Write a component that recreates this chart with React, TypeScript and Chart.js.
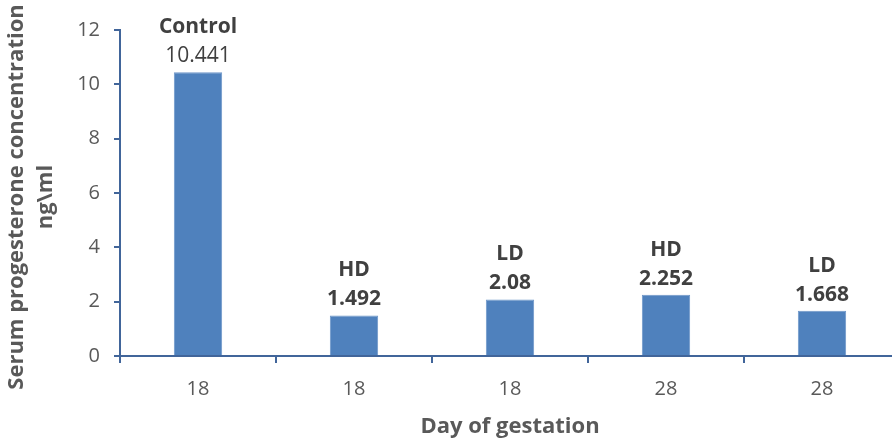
import React, { useEffect, useRef } from "react";
import { Chart, registerables } from "chart.js";

Chart.register(...registerables);

const categories = ["18", "18", "18", "28", "28"];
const groups = ["Control", "HD", "LD", "HD", "LD"];
const values = [10.441, 1.492, 2.08, 2.252, 1.668];
const valueLabels = ["10.441", "1.492", "2.08", "2.252", "1.668"];
const yMin = 0;
const yMax = 12;
const yStep = 2;
const yTitleLines = ["Serum progesterone concentration", "ng\\ml"];
const xTitle = "Day of gestation";

const FONT = "'Open Sans', 'Liberation Sans', sans-serif";
const AXIS_COLOR = "#41659A";
const TEXT_COLOR = "#595959";
const LABEL_COLOR = "#404040";
const BAR_COLOR = "#4F81BD";
const valueBold = [false, true, true, true, true];

const labelPlugin = {
  id: "labels",
  afterDatasetsDraw(chart: any) {
    const ctx = chart.ctx;
    const meta = chart.getDatasetMeta(0);
    ctx.save();
    ctx.fillStyle = LABEL_COLOR;
    ctx.textAlign = "center";
    ctx.textBaseline = "middle";
    meta.data.forEach((bar: any, i: number) => {
      const x = bar.x;
      const y = bar.y;
      ctx.font = `${valueBold[i] ? "bold " : ""}21px ${FONT}`;
      ctx.fillText(valueLabels[i], x, y - 16);
      ctx.font = `bold 21px ${FONT}`;
      ctx.fillText(groups[i], x, y - 45);
    });
    ctx.restore();
  },
  afterDraw(chart: any) {
    const ctx = chart.ctx;
    const area = chart.chartArea;
    ctx.save();
    ctx.fillStyle = TEXT_COLOR;
    ctx.font = `bold 22px ${FONT}`;
    ctx.textAlign = "center";
    ctx.textBaseline = "middle";
    ctx.fillText(xTitle, (area.left + area.right) / 2, 427);
    const cy = 197;
    ctx.translate(0, cy);
    ctx.rotate(-Math.PI / 2);
    ctx.fillText(yTitleLines[0], 0, 17);
    ctx.fillText(yTitleLines[1], 0, 46);
    ctx.restore();
  },
};

export default function App() {
  const ref = useRef<HTMLCanvasElement>(null);
  useEffect(() => {
    const chart = new Chart(ref.current!, {
      type: "bar",
      data: {
        labels: categories,
        datasets: [
          {
            data: values,
            backgroundColor: BAR_COLOR,
            borderColor: "#6E96C8",
            borderWidth: 1,
            barPercentage: 0.31,
            categoryPercentage: 1,
          },
        ],
      },
      options: {
        animation: false,
        responsive: false,
        devicePixelRatio: 1,
        layout: { padding: { top: 30, left: 0, right: 0, bottom: 0 } },
        plugins: { legend: { display: false }, tooltip: { enabled: false } },
        scales: {
          x: {
            grid: {
              display: true,
              drawOnChartArea: false,
              drawTicks: true,
              tickLength: 7,
              color: AXIS_COLOR,
              lineWidth: 2,
              offset: true,
            },
            border: { color: AXIS_COLOR, width: 2 },
            ticks: { color: TEXT_COLOR, font: { family: FONT, size: 20 }, padding: 14 },
            afterFit: (s: any) => {
              s.height = 88;
            },
          },
          y: {
            min: yMin,
            max: yMax,
            grid: {
              display: true,
              drawOnChartArea: false,
              drawTicks: true,
              tickLength: 6,
              color: AXIS_COLOR,
              lineWidth: 2,
            },
            border: { color: AXIS_COLOR, width: 2 },
            ticks: {
              stepSize: yStep,
              color: TEXT_COLOR,
              font: { family: FONT, size: 20 },
              padding: 14,
            },
            afterFit: (s: any) => {
              s.width = 120;
            },
          },
        },
      },
      plugins: [labelPlugin],
    });
    return () => chart.destroy();
  }, []);
  return (
    <div
      style={{
        position: "fixed",
        left: 0,
        top: 0,
        width: 892,
        height: 444,
        overflow: "hidden",
        background: "#fff",
      }}
    >
      <canvas ref={ref} width={900} height={444} />
    </div>
  );
}
